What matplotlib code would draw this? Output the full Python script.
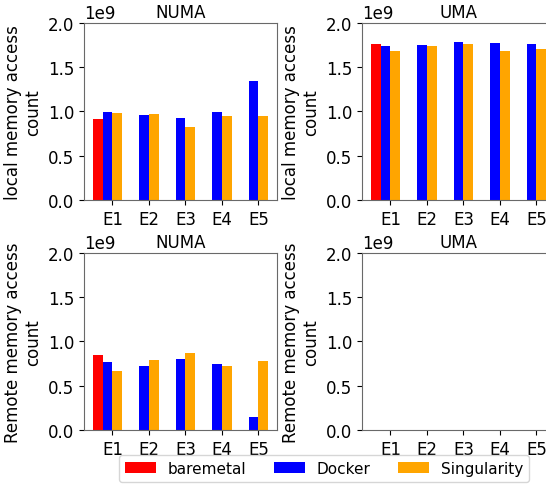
import numpy as np
import matplotlib
matplotlib.use("Agg")
import matplotlib.pyplot as plt

labels = ["E1", "E2", "E3", "E4", "E5"]

# local memory access count (x1e9)
numa_local_bare = [0.914, 0, 0, 0, 0]
numa_local_docker = [0.992, 0.959, 0.925, 0.992, 1.342]
numa_local_sing = [0.981, 0.970, 0.823, 0.947, 0.947]

uma_local_bare = [1.759, 0, 0, 0, 0]
uma_local_docker = [1.737, 1.748, 1.782, 1.771, 1.759]
uma_local_sing = [1.680, 1.737, 1.759, 1.680, 1.703]

# remote memory access count (x1e9)
numa_remote_bare = [0.846, 0, 0, 0, 0]
numa_remote_docker = [0.767, 0.722, 0.801, 0.744, 0.147]
numa_remote_sing = [0.665, 0.789, 0.868, 0.722, 0.778]

uma_remote_bare = [0.004, 0, 0, 0, 0]
uma_remote_docker = [0.004, 0.004, 0.004, 0.004, 0.004]
uma_remote_sing = [0.004, 0.004, 0.004, 0.004, 0.004]

plt.rcParams["font.size"] = 12

fig = plt.figure(figsize=(5.46, 4.85), dpi=100)
w_ax, h_ax = 0.3535, 0.3658
axes = [
    fig.add_axes([0.1538, 0.5856, w_ax, h_ax]),
    fig.add_axes([0.663, 0.5856, w_ax, h_ax]),
    fig.add_axes([0.1538, 0.1113, w_ax, h_ax]),
    fig.add_axes([0.663, 0.1113, w_ax, h_ax]),
]

panels = [
    ("NUMA", "local memory access\ncount", numa_local_bare, numa_local_docker, numa_local_sing),
    ("UMA", "local memory access\ncount", uma_local_bare, uma_local_docker, uma_local_sing),
    ("NUMA", "Remote memory access\ncount", numa_remote_bare, numa_remote_docker, numa_remote_sing),
    ("UMA", "Remote memory access\ncount", uma_remote_bare, uma_remote_docker, uma_remote_sing),
]

x = np.arange(len(labels))
w = 0.27
for ax, (title, ylabel, bare, dock, sing) in zip(axes, panels):
    ax.bar(x - 1.5 * w, np.array(bare) * 1e9, w, color="red", label="baremetal")
    ax.bar(x - 0.5 * w, np.array(dock) * 1e9, w, color="blue", label="Docker")
    ax.bar(x + 0.5 * w, np.array(sing) * 1e9, w, color="orange", label="Singularity")
    ax.set_xticks(x)
    ax.set_xticklabels(labels)
    ax.set_ylim(0, 2e9)
    ax.set_yticks([0, 0.5e9, 1.0e9, 1.5e9, 2.0e9])
    ax.set_title(title, fontsize=12, pad=4)
    ax.set_ylabel(ylabel)
    for s in ax.spines.values():
        s.set_color("dimgray")

handles, lbls = axes[0].get_legend_handles_labels()
fig.legend(handles, lbls, loc="center", bbox_to_anchor=(0.594, 0.032), ncol=3,
           fontsize=11, columnspacing=1.8)

fig.savefig("out.png", dpi=100)
